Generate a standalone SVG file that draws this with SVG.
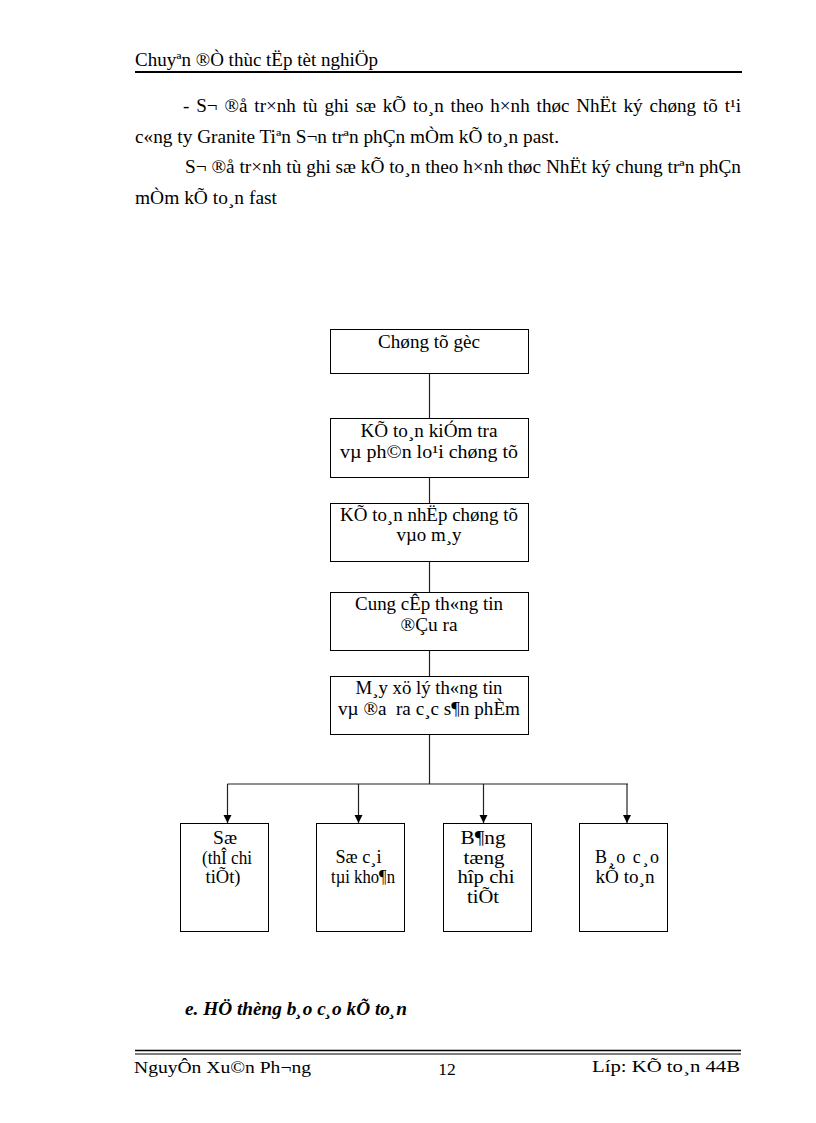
<svg xmlns="http://www.w3.org/2000/svg" width="816" height="1123" viewBox="0 0 816 1123">
<style>
text{font-family:"Liberation Serif","Times New Roman",serif;fill:#000}
.hd{font-size:18px}
.p{font-size:18px}
.bx{font-size:18px;text-anchor:middle}
.bs{font-size:18px;text-anchor:middle}
.box{fill:#fff;stroke:#000;stroke-width:1}
.ln{stroke:#222;stroke-width:1.2;fill:none}
.ft{font-size:17.5px}
</style>
<defs>
<marker id="ah" viewBox="0 0 10 10" refX="10" refY="5" markerWidth="8" markerHeight="9" markerUnits="userSpaceOnUse" orient="auto">
<path d="M0,0 L10,5 L0,10 Z" fill="#000"/>
</marker>
</defs>
<rect width="816" height="1123" fill="#fff"/>
<g id="header">
<text class="hd" x="135" y="66" textLength="243" lengthAdjust="spacingAndGlyphs">Chuyªn ®Ò thùc tËp tèt nghiÖp</text>
<line x1="135" y1="72" x2="742" y2="72" stroke="#000" stroke-width="2"/>
</g>
<g id="body">
<text class="p" x="183" y="112" textLength="558" lengthAdjust="spacingAndGlyphs" word-spacing="2">- S¬ ®å tr×nh tù ghi sæ kÕ to¸n theo h×nh thøc NhËt ký chøng tõ t¹i</text>
<text class="p" x="135" y="143" textLength="424" lengthAdjust="spacingAndGlyphs">c«ng ty Granite Tiªn S¬n trªn phÇn mÒm kÕ to¸n past.</text>
<text class="p" x="185" y="173" textLength="556" lengthAdjust="spacingAndGlyphs">S¬ ®å tr×nh tù ghi sæ kÕ to¸n theo h×nh thøc NhËt ký chung trªn phÇn</text>
<text class="p" x="135" y="204" textLength="142" lengthAdjust="spacingAndGlyphs">mÒm kÕ to¸n fast</text>
</g>
<g id="connectors">
<line class="ln" x1="429.5" y1="374" x2="429.5" y2="418"/>
<line class="ln" x1="429.5" y1="477" x2="429.5" y2="503"/>
<line class="ln" x1="429.5" y1="561" x2="429.5" y2="592"/>
<line class="ln" x1="429.5" y1="651" x2="429.5" y2="677"/>
<line class="ln" x1="429.5" y1="735" x2="429.5" y2="784"/>
<line class="ln" x1="227.5" y1="784" x2="628" y2="784"/>
<line class="ln" x1="227.5" y1="784" x2="227.5" y2="823" marker-end="url(#ah)"/>
<line class="ln" x1="358.5" y1="784" x2="358.5" y2="823" marker-end="url(#ah)"/>
<line class="ln" x1="483.5" y1="784" x2="483.5" y2="823" marker-end="url(#ah)"/>
<line class="ln" x1="627" y1="784" x2="627" y2="823" marker-end="url(#ah)"/>
</g>
<g id="n1">
<rect class="box" x="330.5" y="329.5" width="198" height="44"/>
<text class="bx" x="429" y="348" textLength="102" lengthAdjust="spacingAndGlyphs">Chøng tõ gèc</text>
</g>
<g id="n2">
<rect class="box" x="330.5" y="418.5" width="198" height="59"/>
<text class="bx" x="429" y="437" textLength="137" lengthAdjust="spacingAndGlyphs">KÕ to¸n kiÓm tra</text>
<text class="bx" x="429" y="458" textLength="178" lengthAdjust="spacingAndGlyphs">vµ ph©n lo¹i chøng tõ</text>
</g>
<g id="n3">
<rect class="box" x="330.5" y="503.5" width="198" height="58"/>
<text class="bx" x="429" y="521" textLength="178" lengthAdjust="spacingAndGlyphs">KÕ to¸n nhËp chøng tõ</text>
<text class="bx" x="429" y="541" textLength="65" lengthAdjust="spacingAndGlyphs">vµo m¸y</text>
</g>
<g id="n4">
<rect class="box" x="330.5" y="592.5" width="198" height="58"/>
<text class="bx" x="429" y="610" textLength="148" lengthAdjust="spacingAndGlyphs">Cung cÊp th«ng tin</text>
<text class="bx" x="429" y="631" textLength="57" lengthAdjust="spacingAndGlyphs">®Çu ra</text>
</g>
<g id="n5">
<rect class="box" x="330.5" y="676.5" width="198" height="58"/>
<text class="bx" x="429" y="694" textLength="147" lengthAdjust="spacingAndGlyphs">M¸y xö lý th«ng tin</text>
<text class="bx" x="429" y="715" textLength="182" lengthAdjust="spacingAndGlyphs" xml:space="preserve">vµ ®a  ra c¸c s¶n phÈm</text>
</g>
<g id="n6">
<rect class="box" x="180.5" y="823.5" width="88" height="108"/>
<text class="bs" x="225" y="844" textLength="24" lengthAdjust="spacingAndGlyphs">Sæ</text>
<text class="bs" x="227" y="864" textLength="50" lengthAdjust="spacingAndGlyphs">(thÎ chi</text>
<text class="bs" x="223" y="883" textLength="35" lengthAdjust="spacingAndGlyphs">tiÕt)</text>
</g>
<g id="n7">
<rect class="box" x="316.5" y="823.5" width="88" height="108"/>
<text class="bs" x="358.5" y="863" textLength="46" lengthAdjust="spacingAndGlyphs">Sæ c¸i</text>
<text class="bs" x="363" y="883" textLength="64" lengthAdjust="spacingAndGlyphs">tµi kho¶n</text>
</g>
<g id="n8">
<rect class="box" x="443.5" y="823.5" width="88" height="108"/>
<text class="bs" x="483" y="844" textLength="45" lengthAdjust="spacingAndGlyphs">B¶ng</text>
<text class="bs" x="484" y="864" textLength="41" lengthAdjust="spacingAndGlyphs">tæng</text>
<text class="bs" x="486" y="883" textLength="57" lengthAdjust="spacingAndGlyphs">hîp chi</text>
<text class="bs" x="483" y="903" textLength="32" lengthAdjust="spacingAndGlyphs">tiÕt</text>
</g>
<g id="n9">
<rect class="box" x="579.5" y="823.5" width="88" height="108"/>
<text class="bs" x="627" y="863" textLength="64" lengthAdjust="spacing">B¸o c¸o</text>
<text class="bs" x="625" y="883" textLength="59" lengthAdjust="spacingAndGlyphs">kÕ to¸n</text>
</g>
<g id="heading">
<text x="185" y="1015" font-size="18" font-weight="bold" font-style="italic" textLength="222" lengthAdjust="spacingAndGlyphs">e. HÖ thèng b¸o c¸o kÕ to¸n</text>
</g>
<g id="footer">
<line x1="135" y1="1050.5" x2="741" y2="1050.5" stroke="#000" stroke-width="1.3"/>
<line x1="135" y1="1054" x2="741" y2="1054" stroke="#000" stroke-width="1"/>
<text class="ft" x="134" y="1073" textLength="177" lengthAdjust="spacingAndGlyphs">NguyÔn Xu©n Ph¬ng</text>
<text class="ft" x="447" y="1075" text-anchor="middle">12</text>
<text class="ft" x="592" y="1072" textLength="148" lengthAdjust="spacingAndGlyphs">Líp: KÕ to¸n 44B</text>
</g>
</svg>
